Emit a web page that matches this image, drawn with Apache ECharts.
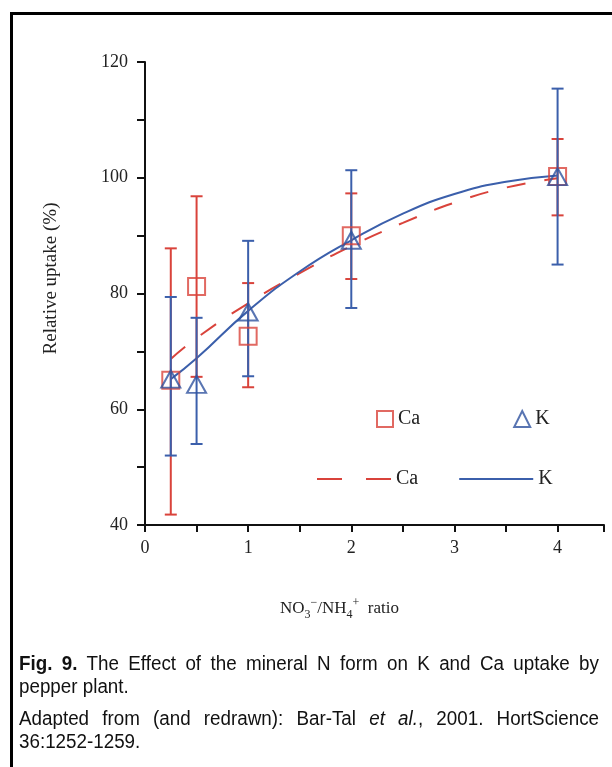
<!DOCTYPE html>
<html>
<head>
<meta charset="utf-8">
<script src="https://cdn.jsdelivr.net/npm/echarts@6/dist/echarts.min.js"></script>
<style>
    html, body { margin: 0; padding: 0; background: #fff; }
    #wrap { position: relative; width: 612px; height: 767px; overflow: hidden; }
    #chart { position: absolute; left: 0; top: 0; width: 612px; height: 767px; }
    #frame {
        position: absolute; left: 10px; top: 12px; width: 700px; height: 900px;
        border-left: 3px solid #000; border-top: 3px solid #000;
        pointer-events: none;
    }
    #caption {
        position: absolute; left: 19px; top: 652px; width: 617px;
        transform: scaleX(0.94); transform-origin: 0 0;
        font-family: 'Liberation Sans', Arial, sans-serif;
        font-size: 20px; line-height: 23px; color: #111;
    }
    #caption .j { text-align: justify; text-align-last: justify; }
    #caption .gap { height: 9px; }
</style>
</head>
<body>
<div id="wrap">
    <div id="chart"></div>
    <div id="frame"></div>
    <div id="caption">
        <div class="j"><b>Fig. 9.</b> The Effect of the mineral N form on K and Ca uptake by</div>
        <div>pepper plant.</div>
        <div class="gap"></div>
        <div class="j">Adapted from (and redrawn): Bar-Tal <i>et al.</i>, 2001. HortScience</div>
        <div>36:1252-1259.</div>
    </div>
</div>
<script>
// measured points (NO3/NH4 ratio)
const ratios = [0.25, 0.5, 1, 2, 4];
const caMean = [65, 81.2, 72.6, 90, 100.2];
const caLow = [41.8, 65.6, 63.8, 82.5, 93.5];
const caHigh = [87.8, 96.8, 81.8, 97.3, 106.7];
const kMean = [65.2, 64.3, 76.8, 89.2, 100.2];
const kLow = [52, 54, 65.7, 77.5, 85];
const kHigh = [79.4, 75.8, 89.1, 101.3, 115.4];

// fitted curves
const fitX = [0.25, 0.5, 1, 1.5, 2, 2.5, 3, 3.5, 4];
const caFit = [68.7, 72.3, 78.3, 83.5, 88.2, 92.2, 95.7, 98.3, 99.9];
const kFit = [65.2, 68.8, 77.0, 83.8, 89.2, 93.8, 97.2, 99.3, 100.4];

const yTicks = [40, 60, 80, 100, 120];

const RED = '#d9433b';
const BLUE = '#3b5fab';
const SERIF = 'Liberation Serif';

function pairs(xs, ys) {
    return xs.map((x, i) => [x, ys[i]]);
}
function bars(xs, lo, hi) {
    return xs.map((x, i) => [x, lo[i], hi[i]]);
}
function errorBar(color) {
    return function (params, api) {
        const top = api.coord([api.value(0), api.value(2)]);
        const bot = api.coord([api.value(0), api.value(1)]);
        const w = 6;
        const style = { stroke: color, lineWidth: 2 };
        return {
            type: 'group',
            children: [
                { type: 'line', shape: { x1: top[0], y1: top[1], x2: bot[0], y2: bot[1] }, style: style },
                { type: 'line', shape: { x1: top[0] - w, y1: top[1], x2: top[0] + w, y2: top[1] }, style: style },
                { type: 'line', shape: { x1: bot[0] - w, y1: bot[1], x2: bot[0] + w, y2: bot[1] }, style: style },
            ],
        };
    };
}

let option = {
    backgroundColor: '#fff',
    animation: false,
    grid: { left: 145, top: 62, right: 8, bottom: 242 },
    legend: [
        {
            data: ['Ca', 'K'],
            left: 376,
            top: 409,
            padding: 0,
            itemWidth: 16,
            itemHeight: 16,
            itemGap: 93,
            textStyle: { fontFamily: SERIF, fontSize: 20, color: '#222' },
        },
        {
            data: [
                { name: 'Ca fit', lineStyle: { type: [25, 24] } },
                { name: 'K fit' },
            ],
            left: 316,
            top: 469,
            padding: 0,
            itemWidth: 74,
            itemHeight: 16,
            itemGap: 40,
            itemStyle: { color: 'rgba(0,0,0,0)', borderWidth: 0 },
            formatter: (n) => n.replace(' fit', ''),
            textStyle: { fontFamily: SERIF, fontSize: 20, color: '#222' },
        },
    ],
    xAxis: {
        type: 'value',
        min: 0,
        max: 4.45,
        interval: 0.5,
        name: '{n|NO}{s|3}{p|−}{n|/NH}{s|4}{p|+}{n|  ratio}',
        nameLocation: 'middle',
        nameGap: 72,
        nameTextStyle: {
            fontFamily: SERIF,
            color: '#222',
            padding: [0, 70, 0, 0],
            rich: {
                n: { fontFamily: SERIF, fontSize: 17, lineHeight: 24, verticalAlign: 'middle', color: '#222' },
                s: { fontFamily: SERIF, fontSize: 12, lineHeight: 12, verticalAlign: 'bottom', color: '#222' },
                p: { fontFamily: SERIF, fontSize: 12, lineHeight: 12, verticalAlign: 'top', color: '#222' },
            },
        },
        axisLine: { onZero: false, lineStyle: { color: '#111', width: 2 } },
        axisTick: { show: true, inside: false, length: 7, lineStyle: { color: '#111', width: 2 } },
        axisLabel: {
            margin: 14,
            fontFamily: SERIF,
            fontSize: 18,
            color: '#222',
            formatter: (v) => (Math.abs(v - Math.round(v)) < 1e-6 ? String(Math.round(v)) : ''),
        },
        splitLine: { show: false },
    },
    yAxis: {
        type: 'value',
        min: yTicks[0],
        max: yTicks[yTicks.length - 1],
        interval: 20,
        name: 'Relative uptake (%)',
        nameLocation: 'middle',
        nameGap: 84,
        nameTextStyle: { fontFamily: SERIF, fontSize: 19, color: '#222', padding: [0, 0, 0, 30] },
        axisLine: { onZero: false, lineStyle: { color: '#111', width: 2 } },
        axisTick: { show: true, inside: false, length: 8, lineStyle: { color: '#111', width: 2 } },
        minorTick: { show: true, splitNumber: 2, length: 8, lineStyle: { color: '#111', width: 2 } },
        axisLabel: { margin: 17, fontFamily: SERIF, fontSize: 18, color: '#222' },
        splitLine: { show: false },
    },
    series: [
        {
            name: 'Ca fit',
            type: 'line',
            data: pairs(fitX, caFit),
            smooth: true,
            symbol: 'none',
            lineStyle: { color: RED, width: 2, type: [19, 19] },
            itemStyle: { color: RED },
            z: 2,
        },
        {
            name: 'K fit',
            type: 'line',
            data: pairs(fitX, kFit),
            smooth: true,
            symbol: 'none',
            lineStyle: { color: BLUE, width: 2 },
            itemStyle: { color: BLUE },
            z: 3,
        },
        {
            name: 'Ca bars',
            type: 'custom',
            renderItem: errorBar(RED),
            data: bars(ratios, caLow, caHigh),
            encode: { x: 0, y: [1, 2] },
            z: 4,
        },
        {
            name: 'K bars',
            type: 'custom',
            renderItem: errorBar(BLUE),
            data: bars(ratios, kLow, kHigh),
            encode: { x: 0, y: [1, 2] },
            z: 5,
        },
        {
            name: 'Ca',
            type: 'scatter',
            data: pairs(ratios, caMean),
            symbol: 'rect',
            symbolSize: 17,
            itemStyle: { color: 'rgba(255,255,255,0)', borderColor: RED, borderWidth: 2 },
            z: 6,
        },
        {
            name: 'K',
            type: 'scatter',
            data: pairs(ratios, kMean),
            symbol: 'triangle',
            symbolSize: [19, 17],
            itemStyle: { color: 'rgba(255,255,255,0)', borderColor: '#2f529f', borderWidth: 2 },
            z: 7,
        },
    ],
};

let chart = echarts.init(document.getElementById('chart'), null, { renderer: 'canvas' });
chart.setOption(option);
window.addEventListener('resize', () => {
    chart.resize();
});
</script>
</body>
</html>
